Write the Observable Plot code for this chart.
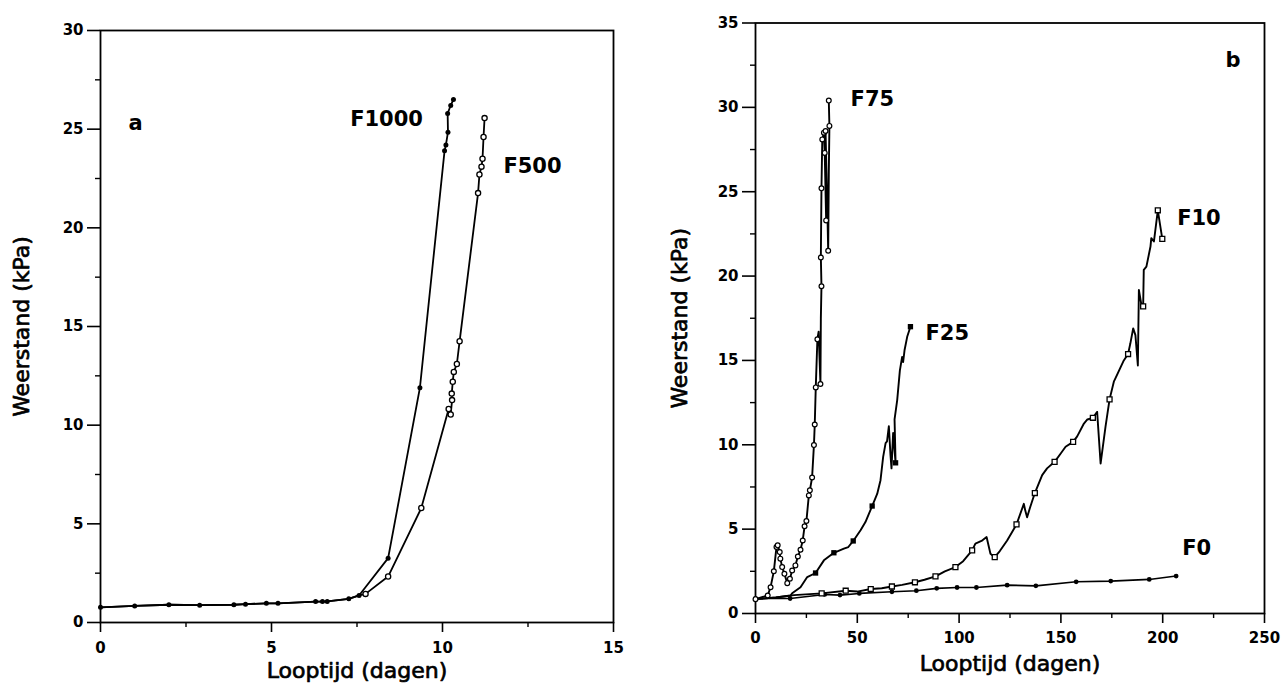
<!DOCTYPE html>
<html><head><meta charset="utf-8">
<script src="https://cdn.jsdelivr.net/npm/d3@7"></script>
<script src="https://cdn.jsdelivr.net/npm/@observablehq/plot@0.6"></script>
<style>
body{margin:0;background:#fff;}
#wrap{display:flex;width:1286px;height:684px;overflow:hidden;}
#wrap svg{display:block;flex:none;}
</style></head><body><div id="wrap"></div>
<script>
// ---------- Panel a data: [looptijd (dagen), weerstand (kPa)] ----------
const f1000 = [[0,0.77],[1.0,0.84],[2.0,0.9],[2.9,0.88],[3.9,0.9],[4.24,0.93],[4.85,0.97],[5.19,0.97],[6.29,1.06],[6.49,1.06],[6.63,1.07],[7.26,1.2],[7.56,1.37],[8.41,3.26],[9.34,11.9],[10.06,23.9],[10.1,24.2],[10.16,24.85],[10.15,25.8],[10.24,26.2],[10.32,26.5]];
const f500 = [[0,0.77],[1.0,0.84],[2.0,0.9],[2.9,0.88],[3.9,0.9],[4.24,0.93],[4.85,0.97],[5.19,0.97],[6.29,1.06],[6.49,1.06],[6.63,1.07],[7.26,1.2],[7.56,1.37],[7.75,1.45],[8.41,2.33],[9.38,5.8],[10.18,10.82],[10.24,10.54],[10.28,11.27],[10.27,11.6],[10.3,12.2],[10.33,12.7],[10.42,13.1],[10.5,14.25],[11.04,21.76],[11.08,22.7],[11.14,23.1],[11.17,23.5],[11.2,24.6],[11.23,25.56]];
const aXTicks = [0, 5, 10, 15];
const aXMinor = [2.5, 7.5, 12.5];
const aYTicks = [0, 5, 10, 15, 20, 25, 30];
const aYMinor = [2.5, 7.5, 12.5, 17.5, 22.5, 27.5];
const aLabels = [{x: 0.82, y: 25.3, t: "a"}, {x: 7.3, y: 25.5, t: "F1000"}, {x: 11.78, y: 23.1, t: "F500"}];

// ---------- Panel b data: [looptijd (dagen), weerstand (kPa), marker 1/0] ----------
const f75 = [[0,0.85,1],[6.0,1.07,1],[7.4,1.56,1],[9.0,2.5,1],[10.3,3.94,1],[10.9,4.04,1],[11.9,3.64,1],[12.2,3.25,1],[13.1,2.75,1],[14.2,2.35,1],[15.6,1.8,1],[16.9,2.06,1],[18.0,2.55,1],[19.6,2.85,1],[20.8,3.38,1],[22.1,3.78,1],[23.2,4.33,1],[24.1,5.17,1],[25.0,5.48,1],[26.2,7.0,1],[26.7,7.3,1],[27.8,8.06,1],[28.7,9.98,1],[29.1,11.2,1],[29.6,13.4,1],[30.4,16.25,1],[31.0,16.7,0],[31.9,13.6,1],[32.1,17.5,0],[32.4,19.4,1],[32.1,21.1,1],[32.4,25.2,1],[32.8,28.1,1],[33.6,28.5,1],[34.0,27.3,1],[34.7,23.3,1],[34.4,28.6,1],[35.1,25.0,0],[35.7,21.5,1],[36.0,26.0,0],[36.3,28.9,1],[36.0,30.4,1]];
const f25 = [[0,0.85,0],[10,0.95,0],[17.2,1.07,0],[18,1.2,0],[22.1,1.56,0],[25.4,2.16,0],[29.5,2.4,1],[33.6,3.15,0],[38.5,3.6,1],[43.4,3.84,0],[45.6,3.94,0],[48.0,4.3,1],[51.6,4.93,0],[54.0,5.42,0],[57.3,6.37,1],[59.8,7.1,0],[61.4,7.9,0],[62.7,9.28,0],[63.9,10.1,0],[64.6,10.2,0],[65.5,11.1,0],[66.3,9.4,0],[66.8,8.6,0],[67.6,10.7,0],[68.8,8.93,1],[68.3,11.5,0],[69.6,12.65,0],[70.9,14.4,0],[72.0,15.2,0],[72.5,14.9,0],[73.2,15.6,0],[74.5,16.4,0],[76.1,17.0,1]];
const f10 = [[0,0.85,0],[10,0.95,0],[18.9,1.09,0],[32.5,1.19,1],[44.3,1.35,1],[50,1.3,0],[56.6,1.45,1],[62,1.5,0],[67,1.6,1],[72,1.7,0],[78.3,1.85,1],[83,2.0,0],[88.4,2.2,1],[93,2.5,0],[98.2,2.75,1],[102,3.1,0],[106.4,3.74,1],[108,4.14,0],[111,4.3,0],[113.5,4.53,0],[115.4,3.54,0],[117.5,3.34,1],[120,3.7,0],[123.6,4.33,0],[128.2,5.28,1],[131.8,6.5,0],[132.5,6.1,0],[133.4,5.7,0],[134.9,6.3,0],[137.2,7.14,1],[140.8,8.2,0],[143.2,8.6,0],[146.9,8.99,1],[150,9.5,0],[152.3,9.88,0],[156.0,10.17,1],[158,10.5,0],[161.3,11.26,0],[163,11.5,0],[165.7,11.6,1],[167.8,11.95,0],[169.5,8.89,0],[171.9,11.06,0],[173.9,12.69,1],[176,13.74,0],[177,14.0,0],[180.9,15.0,0],[183.0,15.38,1],[184.1,16.0,0],[185.5,16.9,0],[186.6,16.5,0],[187.8,14.7,0],[188.3,19.18,0],[189.4,18.4,0],[190.4,18.2,1],[190.7,20.37,0],[192.0,20.56,0],[194.0,21.75,0],[194.4,22.25,0],[195.7,22.05,0],[197.6,23.9,1],[199.8,22.2,1]];
const f0 = [[0,0.89],[17,0.89],[34,1.13],[41.5,1.09],[51,1.19],[67,1.29],[79,1.35],[89,1.49],[99,1.54],[108.5,1.54],[123.6,1.68],[137.7,1.64],[157.5,1.88],[174.5,1.92],[193.4,2.02],[206.6,2.22]];
const bXTicks = [0, 50, 100, 150, 200, 250];
const bXMinor = [25, 75, 125, 175, 225];
const bYTicks = [0, 5, 10, 15, 20, 25, 30, 35];
const bYMinor = [2.5, 7.5, 12.5, 17.5, 22.5, 27.5, 32.5];
const bLabels = [{x: 230.8, y: 32.8, t: "b"}, {x: 46.7, y: 30.5, t: "F75"}, {x: 83.5, y: 16.6, t: "F25"}, {x: 207.1, y: 23.45, t: "F10"}, {x: 209.6, y: 3.84, t: "F0"}];

const xTitle = "Looptijd (dagen)";
const yTitle = "Weerstand (kPa)";

const FONT = "'DejaVu Sans', sans-serif";
const X = d => d[0], Y = d => d[1];
const STYLE = {fontFamily: FONT, fontSize: "15px", background: "white", color: "black", overflow: "visible"};

function axes(xt, xm, yt, ym, xPad) {
  return [
    Plot.axisY(yt, {tickSize: 13, tickPadding: 4, strokeWidth: 1.6, fontSize: 15, fontWeight: "bold", label: null}),
    Plot.axisY(ym, {tickSize: 5, strokeWidth: 1.4, tickFormat: () => "", label: null}),
    Plot.axisX(xt, {tickSize: 10, tickPadding: xPad, strokeWidth: 1.6, fontSize: 15, fontWeight: "bold", label: null}),
    Plot.axisX(xm, {tickSize: 5, strokeWidth: 1.4, tickFormat: () => "", label: null})
  ];
}
function titles(dyX, dxY) {
  return [
    Plot.text([xTitle], {frameAnchor: "bottom", dy: dyX, text: d => d, fontSize: 22, fontWeight: "normal", lineAnchor: "middle", fill: "black", stroke: "black", strokeWidth: 0.7}),
    Plot.text([yTitle], {frameAnchor: "left", dx: dxY, rotate: -90, text: d => d, fontSize: 22, fontWeight: "normal", lineAnchor: "middle", textAnchor: "middle", fill: "black", stroke: "black", strokeWidth: 0.7})
  ];
}
function labels(arr) {
  return Plot.text(arr, {x: "x", y: "y", text: "t", textAnchor: "start", lineAnchor: "middle", fontSize: 21, fontWeight: "bold", fill: "black"});
}

const A = Plot.plot({
  width: 643, height: 684,
  marginLeft: 100, marginRight: 30, marginTop: 30, marginBottom: 62,
  style: STYLE,
  x: {domain: [0, 15]},
  y: {domain: [0, 30]},
  marks: [
    Plot.frame({stroke: "black", strokeWidth: 1.8}),
    ...axes(aXTicks, aXMinor, aYTicks, aYMinor, 10),
    Plot.line(f500, {x: X, y: Y, stroke: "black", strokeWidth: 1.8}),
    Plot.line(f1000, {x: X, y: Y, stroke: "black", strokeWidth: 1.8}),
    Plot.dot(f500.filter(d => d[0] > 7.6), {x: X, y: Y, r: 2.6, fill: "white", stroke: "black", strokeWidth: 1.3}),
    Plot.dot(f1000, {x: X, y: Y, r: 2.5, fill: "black"}),
    labels(aLabels),
    ...titles(48, -79)
  ]
});

const B = Plot.plot({
  width: 643, height: 684,
  marginLeft: 112, marginRight: 22, marginTop: 22.5, marginBottom: 71,
  style: STYLE,
  x: {domain: [0, 250]},
  y: {domain: [0, 35]},
  marks: [
    Plot.frame({stroke: "black", strokeWidth: 1.8}),
    ...axes(bXTicks, bXMinor, bYTicks, bYMinor, 9),
    Plot.line(f0, {x: X, y: Y, stroke: "black", strokeWidth: 1.6}),
    Plot.line(f10, {x: X, y: Y, stroke: "black", strokeWidth: 1.9}),
    Plot.line(f25, {x: X, y: Y, stroke: "black", strokeWidth: 1.9}),
    Plot.line(f75, {x: X, y: Y, stroke: "black", strokeWidth: 1.9}),
    Plot.dot(f0, {x: X, y: Y, r: 2.4, fill: "black"}),
    Plot.dot(f10.filter(d => d[2]), {x: X, y: Y, symbol: "square", r: 2.8, fill: "white", stroke: "black", strokeWidth: 1.3}),
    Plot.dot(f25.filter(d => d[2]), {x: X, y: Y, symbol: "square", r: 3, fill: "black"}),
    Plot.dot(f75.filter(d => d[2]), {x: X, y: Y, r: 2.4, fill: "white", stroke: "black", strokeWidth: 1.2}),
    labels(bLabels),
    ...titles(50, -76)
  ]
});

document.getElementById("wrap").append(A, B);
</script>
</body></html>
